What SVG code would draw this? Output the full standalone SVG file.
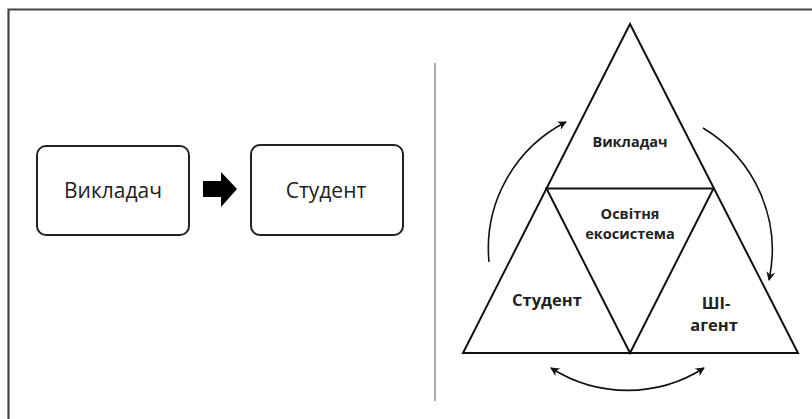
<svg xmlns="http://www.w3.org/2000/svg" width="812" height="419" viewBox="0 0 812 419">
<style>
.frame{stroke:#444;stroke-width:2.2;fill:none}
.box{fill:#fff;stroke:#222;stroke-width:2}
.tri{fill:none;stroke:#111;stroke-width:2;stroke-linejoin:miter}
.arc{fill:none;stroke:#111;stroke-width:1.6}
.t1{font-family:"Open Sans","Noto Sans",sans-serif;font-size:21px;fill:#222;text-anchor:middle}
.t2{font-family:"Open Sans","Noto Sans",sans-serif;font-weight:bold;fill:#222;text-anchor:middle}
</style>
<defs>
<marker id="ah" viewBox="0 0 10 10" refX="9" refY="5" markerWidth="9" markerHeight="9" markerUnits="userSpaceOnUse" orient="auto-start-reverse">
<path d="M0,0 L10,5 L0,10 L3,5 z" fill="#111"/>
</marker>
</defs>
<rect width="812" height="419" fill="#fff"/>
<path class="frame" d="M8.5,419 V9.5 H812"/>
<line x1="435" y1="63" x2="435" y2="401" stroke="#aaa" stroke-width="2"/>
<g id="n-vykladach">
<rect class="box" x="37" y="146" width="152" height="89" rx="9"/>
<text class="t1" x="113" y="198">Викладач</text>
</g>
<g id="n-student">
<rect class="box" x="251" y="145" width="152" height="90" rx="9"/>
<text class="t1" x="326" y="198">Студент</text>
</g>
<g id="block-arrow">
<path d="M203,181 H221 V172 L237,189 L221,207 V197 H203 z" fill="#000"/>
</g>
<g id="triangle">
<path class="tri" d="M630,24 L798,353 L463,353 z"/>
<path class="tri" d="M546.5,188.5 L713.5,188.5 L630,353 z"/>
</g>
<g id="t-vykladach"><text class="t2" x="630" y="147" font-size="14.5">Викладач</text></g>
<g id="t-ecosystem">
<text class="t2" x="630" y="219" font-size="14.5">Освітня</text>
<text class="t2" x="630" y="239" font-size="14.5">екосистема</text>
</g>
<g id="t-student"><text class="t2" x="547" y="306" font-size="16.5">Студент</text></g>
<g id="t-agent">
<text class="t2" x="716" y="309" font-size="16.5">ШІ-</text>
<text class="t2" x="714" y="331" font-size="16.5">агент</text>
</g>
<g id="connectors">
<path class="arc" d="M489,262 A142,142 0 0 1 566,122" marker-end="url(#ah)"/>
<path class="arc" d="M703,128 A142,142 0 0 1 769,280" marker-end="url(#ah)"/>
<path class="arc" d="M704,368 A142,142 0 0 1 551,368" marker-start="url(#ah)" marker-end="url(#ah)"/>
</g>
</svg>
